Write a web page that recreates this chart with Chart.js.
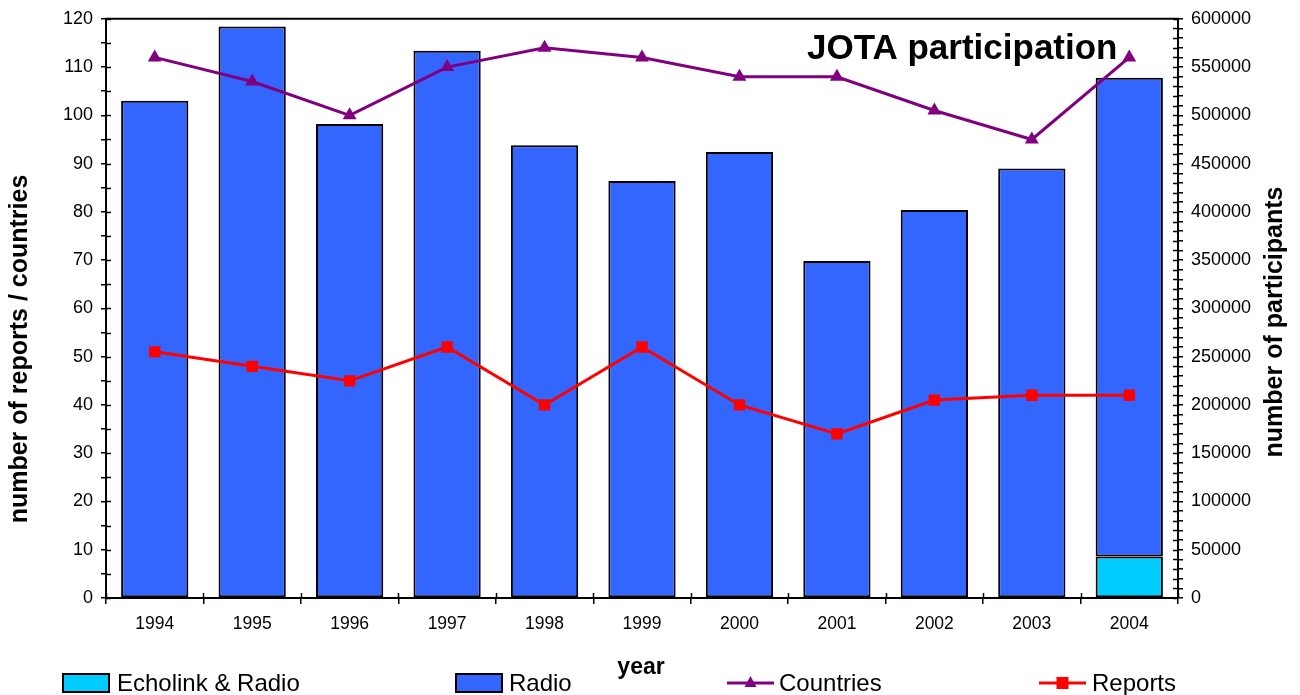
<!DOCTYPE html>
<html>
<head>
<meta charset="utf-8">
<title>JOTA participation</title>
<script src="https://cdn.jsdelivr.net/npm/chart.js@4/dist/chart.umd.min.js"></script>
<style>
  html, body { margin: 0; padding: 0; background: #fff; }
  #wrap { width: 1300px; height: 695px; position: relative; }
</style>
</head>
<body>
<div id="wrap"><canvas id="jota"></canvas></div>
<script>
const years = ['1994', '1995', '1996', '1997', '1998', '1999', '2000', '2001', '2002', '2003', '2004'];
const echolinkRadio = [null, null, null, null, null, null, null, null, null, null, 43000];
const radio = [515000, 592000, 491000, 567000, 469000, 432000, 462000, 349000, 402000, 445000, 496000];
const countries = [112, 107, 100, 110, 114, 112, 108, 108, 101, 95, 112];
const reports = [51, 48, 45, 52, 40, 52, 40, 34, 41, 42, 42];

const FONT = "'Liberation Sans', Arial, sans-serif";

// where the legend items sit in the bottom row
const legendSlots = [
  { x: 63, textX: 117 },
  { x: 456, textX: 509 },
  { x: 727, textX: 779 },
  { x: 1039, textX: 1092 }
];

const decor = {
  id: 'decor',
  afterDraw(chart) {
    const ctx = chart.ctx;
    const a = chart.chartArea;
    ctx.save();

    // frame line on top of the plot
    ctx.strokeStyle = '#000';
    ctx.lineWidth = 2;
    ctx.beginPath();
    ctx.moveTo(a.left - 1, a.top);
    ctx.lineTo(a.right + 1, a.top);
    ctx.stroke();

    // inner half of the crossing tick marks
    ctx.lineWidth = 1.5;
    ['y', 'y2'].forEach(id => {
      const s = chart.scales[id];
      const x0 = id === 'y' ? a.left : a.right;
      const dir = id === 'y' ? 1 : -1;
      s.ticks.forEach(t => {
        const py = Math.round(s.getPixelForValue(t.value)) + 0.5;
        ctx.beginPath();
        ctx.moveTo(x0, py);
        ctx.lineTo(x0 + dir * 5, py);
        ctx.stroke();
      });
    });
    const xs = chart.scales.x;
    for (let i = 0; i <= years.length; i++) {
      const px = Math.round(xs.getPixelForValue(i - 0.5)) + 0.5;
      ctx.beginPath();
      ctx.moveTo(px, a.bottom);
      ctx.lineTo(px, a.bottom - 5);
      ctx.stroke();
    }

    // chart title
    ctx.fillStyle = '#000';
    ctx.textAlign = 'left';
    ctx.textBaseline = 'alphabetic';
    ctx.font = 'bold 35px ' + FONT;
    ctx.fillText('JOTA participation', 807, 59);

    // axis titles
    ctx.textAlign = 'center';
    ctx.textBaseline = 'middle';
    ctx.font = 'bold 23px ' + FONT;
    ctx.fillText('year', 641, 668);

    ctx.font = 'bold 25px ' + FONT;
    ctx.save();
    ctx.translate(20, 349);
    ctx.rotate(-Math.PI / 2);
    ctx.fillText('number of reports / countries', 0, 0);
    ctx.restore();

    ctx.save();
    ctx.translate(1275, 322);
    ctx.rotate(-Math.PI / 2);
    ctx.fillText('number of participants', 0, 0);
    ctx.restore();

    // legend
    const ly = 683;
    ctx.font = '24px ' + FONT;
    ctx.textAlign = 'left';
    chart.data.datasets.forEach((ds, i) => {
      const slot = legendSlots[i];
      if (ds.type === 'bar') {
        ctx.fillStyle = ds.backgroundColor;
        ctx.fillRect(slot.x, ly - 9, 46, 18);
        ctx.strokeStyle = '#000';
        ctx.lineWidth = 2;
        ctx.strokeRect(slot.x, ly - 9, 46, 18);
      } else {
        ctx.strokeStyle = ds.borderColor;
        ctx.lineWidth = 3;
        ctx.beginPath();
        ctx.moveTo(slot.x, ly);
        ctx.lineTo(slot.x + 47, ly);
        ctx.stroke();
        ctx.fillStyle = ds.borderColor;
        const cx = slot.x + 23.5;
        ctx.beginPath();
        if (ds.pointStyle === 'triangle') {
          ctx.moveTo(cx, ly - 7);
          ctx.lineTo(cx + 6, ly + 4);
          ctx.lineTo(cx - 6, ly + 4);
          ctx.closePath();
        } else {
          ctx.rect(cx - 6, ly - 6, 12, 12);
        }
        ctx.fill();
      }
      ctx.fillStyle = '#000';
      ctx.fillText(ds.label, slot.textX, ly + 1);
    });

    ctx.restore();
  }
};

new Chart(document.getElementById('jota'), {
  data: {
    labels: years,
    datasets: [
      {
        type: 'bar',
        label: 'Echolink & Radio',
        data: echolinkRadio,
        yAxisID: 'y2',
        stack: 'p',
        order: 2,
        backgroundColor: '#00CCFF',
        borderColor: '#000',
        borderWidth: 2,
        borderSkipped: false,
        categoryPercentage: 1,
        barPercentage: 0.69
      },
      {
        type: 'bar',
        label: 'Radio',
        data: radio,
        yAxisID: 'y2',
        stack: 'p',
        order: 2,
        backgroundColor: '#3366FF',
        borderColor: '#000',
        borderWidth: 2,
        borderSkipped: false,
        categoryPercentage: 1,
        barPercentage: 0.69
      },
      {
        type: 'line',
        label: 'Countries',
        data: countries,
        yAxisID: 'y',
        order: 0,
        borderColor: '#800080',
        backgroundColor: '#800080',
        borderWidth: 3,
        pointStyle: 'triangle',
        pointRadius: 8,
        pointBorderWidth: 0,
        tension: 0
      },
      {
        type: 'line',
        label: 'Reports',
        data: reports,
        yAxisID: 'y',
        order: 0,
        borderColor: '#FF0000',
        backgroundColor: '#FF0000',
        borderWidth: 3,
        pointStyle: 'rect',
        pointRadius: 8,
        pointBorderWidth: 0,
        tension: 0
      }
    ]
  },
  options: {
    responsive: true,
    maintainAspectRatio: false,
    animation: false,
    layout: { padding: { top: 17, left: 0, right: 0, bottom: 0 } },
    plugins: {
      legend: { display: false },
      tooltip: { enabled: false },
      title: { display: false }
    },
    scales: {
      x: {
        stacked: true,
        offset: true,
        afterFit(s) { s.height = 97; },
        grid: { offset: true, drawOnChartArea: false, color: '#000', lineWidth: 1.5, tickLength: 6 },
        border: { color: '#000', width: 2 },
        ticks: { color: '#000', font: { family: FONT, size: 17.5 }, padding: 10, maxRotation: 0 }
      },
      y: {
        position: 'left',
        stacked: false,
        min: 0,
        max: 120,
        afterFit(s) { s.width = 106; },
        grid: { drawOnChartArea: false, color: '#000', lineWidth: 1.5, tickLength: 5 },
        border: { color: '#000', width: 2 },
        ticks: {
          stepSize: 5,
          autoSkip: false,
          color: '#000',
          padding: 8,
          font: { family: FONT, size: 18 },
          callback: v => (v % 10 === 0 ? v : '')
        }
      },
      y2: {
        position: 'right',
        stacked: true,
        min: 0,
        max: 600000,
        afterFit(s) { s.width = 122; },
        grid: { drawOnChartArea: false, color: '#000', lineWidth: 1.5, tickLength: 5 },
        border: { color: '#000', width: 2 },
        ticks: {
          stepSize: 10000,
          autoSkip: false,
          color: '#000',
          padding: 8,
          font: { family: FONT, size: 18 },
          callback: v => (v % 50000 === 0 ? String(v) : '')
        }
      }
    }
  },
  plugins: [decor]
});
</script>
</body>
</html>
